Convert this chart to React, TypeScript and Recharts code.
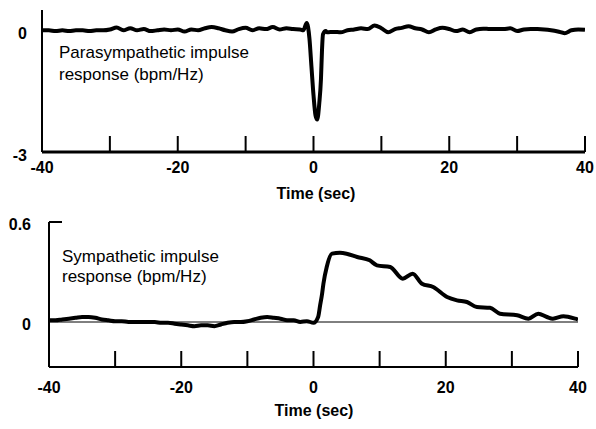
import React from 'react';
import { LineChart, Line, XAxis, YAxis, ReferenceLine } from 'recharts';

// Parasympathetic impulse response (bpm/Hz)
const paraTime = [
  -40, -39, -38, -37, -36, -35, -34, -33, -32, -31, -30, -29, -28, -27, -26, -25, -24, -23, -22, -21,
  -20, -19, -18, -17, -16, -15, -14, -13, -12, -11, -10, -9, -8, -7, -6, -5, -4, -3, -2, -1.5,
  -1.0, -0.6, -0.3, 0.0, 0.3, 0.55, 0.85, 1.1, 1.25, 1.4, 1.8,
  2, 3, 4, 5, 6, 7, 8, 9, 10, 11, 12, 13, 14, 15, 16, 17, 18, 19, 20,
  21, 22, 23, 24, 25, 26, 27, 28, 29, 30, 31, 32, 33, 34, 35, 36, 37, 38, 39, 40,
];
const paraValue = [
  0.0, 0.0, -0.02, 0.0, -0.02, 0.0, 0.0, -0.02, 0.0, 0.0, 0.02, 0.07, 0.0, 0.05, 0.0, 0.03, -0.02, 0.0, 0.02, 0.0,
  0.02, -0.03, 0.02, 0.0, 0.05, 0.08, 0.05, 0.0, -0.03, 0.03, 0.06, 0.0, 0.05, 0.03, 0.08, 0.02, 0.05, 0.03, 0.02, 0.0,
  0.18, -0.2, -0.9, -1.6, -2.1, -2.2, -1.8, -1.2, -0.5, -0.1, -0.02,
  -0.05, -0.04, -0.05, 0.0, 0.02, 0.05, 0.03, 0.12, 0.05, -0.05, 0.03, 0.06, 0.1, 0.05, 0.02, -0.05, 0.02, 0.06, 0.03,
  -0.02, 0.02, -0.05, 0.02, 0.04, 0.03, 0.03, 0.03, 0.05, -0.02, 0.02, 0.03, 0.03, 0.02, 0.0, -0.03, -0.07, 0.0, 0.02, 0.01,
];

// Sympathetic impulse response (bpm/Hz)
const sympTime = [
  -40, -39, -38, -37, -36, -35, -34, -33, -32, -31, -30, -29, -28, -27, -26, -25, -24, -23, -22, -21,
  -20, -19, -18, -17, -16, -15, -14, -13, -12, -11, -10, -9, -8, -7, -6, -5, -4, -3, -2, -1,
  0, 0.7, 1.0, 1.3, 1.5, 2, 2.8, 4, 5, 6.6, 8.5, 9.6, 11.6, 13.5, 15, 16.4, 18.1, 20.2, 21.7, 23.2,
  24.7, 26.7, 28.2, 30.8, 32.5, 34, 35.3, 36.2, 37.8, 39.6, 40,
];
const sympValue = [
  0.01, 0.01, 0.015, 0.02, 0.025, 0.03, 0.03, 0.025, 0.015, 0.01, 0.005, 0.005, 0.0, 0.0, 0.0, 0.0, 0.0, -0.005, -0.005, -0.01,
  -0.015, -0.02, -0.025, -0.02, -0.02, -0.025, -0.015, -0.005, 0.0, 0.0, 0.005, 0.015, 0.025, 0.03, 0.025, 0.02, 0.01, 0.01, 0.0, 0.005,
  -0.005, 0.03, 0.1, 0.17, 0.23, 0.33, 0.41, 0.415, 0.41, 0.39, 0.37, 0.34, 0.33, 0.26, 0.29, 0.23, 0.21, 0.15, 0.13, 0.12,
  0.09, 0.085, 0.05, 0.04, 0.02, 0.05, 0.03, 0.02, 0.035, 0.02, 0.015,
];

const xTicks = [-40, -30, -20, -10, 0, 10, 20, 30, 40];
const xLabelTicks = [-40, -20, 0, 20, 40];
const paraYTicks = [-3, 0];
const sympYTicks = [0, 0.6];

const paraData = paraTime.map((t, i) => ({ t, v: paraValue[i] }));
const sympData = sympTime.map((t, i) => ({ t, v: sympValue[i] }));

const FONT = '"Liberation Sans", Arial, Helvetica, sans-serif';

const makeXTick = (labelDy: number) => (props: any) => {
  const { x, y, payload } = props;
  const v = payload.value;
  return (
    <g>
      {v !== -40 && (
        <line x1={x} x2={x} y1={y} y2={y - 16} stroke="#000" strokeWidth={2} />
      )}
      {xLabelTicks.includes(v) && (
        <text
          x={x}
          y={y + labelDy}
          textAnchor="middle"
          dominantBaseline="central"
          fontFamily={FONT}
          fontWeight={700}
          fontSize={16}
          fill="#000"
        >
          {v}
        </text>
      )}
    </g>
  );
};

const makeYTick = (dx: number, dy: number, innerTickAt: number | null) => (props: any) => {
  const { x, y, payload } = props;
  const v = payload.value;
  return (
    <g>
      {innerTickAt !== null && v === innerTickAt && (
        <line x1={x} x2={x + 13} y1={y} y2={y} stroke="#000" strokeWidth={2} />
      )}
      <text
        x={x - dx}
        y={y + dy}
        textAnchor="end"
        dominantBaseline="central"
        fontFamily={FONT}
        fontWeight={700}
        fontSize={16}
        fill="#000"
      >
        {v}
      </text>
    </g>
  );
};

const textStyle: React.CSSProperties = {
  position: 'absolute',
  fontFamily: FONT,
  color: '#000',
  whiteSpace: 'nowrap',
};

export default function App() {
  return (
    <div style={{ position: 'absolute', left: 0, top: 0, width: 596, height: 429, background: '#fff', overflow: 'hidden' }}>
      <div style={{ position: 'absolute', left: 0, top: 0 }}>
        <LineChart width={596} height={215} data={paraData} margin={{ top: 10, right: 11, bottom: 33, left: 0 }}>
          <XAxis
            dataKey="t"
            type="number"
            domain={[-40, 40]}
            ticks={xTicks}
            interval={0}
            height={30}
            tickSize={0}
            tickMargin={0}
            tickLine={false}
            axisLine={{ stroke: '#000', strokeWidth: 3 }}
            tick={makeXTick(15)}
            allowDataOverflow
          />
          <YAxis
            type="number"
            domain={[-3, 0.5]}
            ticks={paraYTicks}
            interval={0}
            width={42}
            tickSize={0}
            tickMargin={0}
            tickLine={false}
            axisLine={{ stroke: '#000', strokeWidth: 2 }}
            tick={makeYTick(15, 3, null)}
            allowDataOverflow
          />
          <Line
            type="monotone"
            dataKey="v"
            stroke="#000"
            strokeWidth={4}
            dot={false}
            strokeLinejoin="round"
            isAnimationActive={false}
          />
        </LineChart>
      </div>
      <div style={{ position: 'absolute', left: 0, top: 200 }}>
        <LineChart width={596} height={229} data={sympData} margin={{ top: 22, right: 18, bottom: 32, left: 0 }}>
          <XAxis
            dataKey="t"
            type="number"
            domain={[-40, 40]}
            ticks={xTicks}
            interval={0}
            height={30}
            tickSize={0}
            tickMargin={0}
            tickLine={false}
            axisLine={{ stroke: '#000', strokeWidth: 2 }}
            tick={makeXTick(20)}
            allowDataOverflow
          />
          <YAxis
            type="number"
            domain={[-0.27, 0.6]}
            ticks={sympYTicks}
            interval={0}
            width={49}
            tickSize={0}
            tickMargin={0}
            tickLine={false}
            axisLine={{ stroke: '#000', strokeWidth: 2 }}
            tick={makeYTick(18, 2, 0.6)}
            allowDataOverflow
          />
          <ReferenceLine y={0} stroke="#000" strokeWidth={1} />
          <Line
            type="monotone"
            dataKey="v"
            stroke="#000"
            strokeWidth={4}
            dot={false}
            strokeLinejoin="round"
            isAnimationActive={false}
          />
        </LineChart>
      </div>
      <div style={{ ...textStyle, left: 59, top: 42, fontSize: 17, lineHeight: '22px' }}>
        Parasympathetic impulse
        <br />
        response (bpm/Hz)
      </div>
      <div style={{ ...textStyle, left: 316, top: 184, fontSize: 16, fontWeight: 700, lineHeight: '20px', transform: 'translateX(-50%)' }}>
        Time (sec)
      </div>
      <div style={{ ...textStyle, left: 62, top: 247, fontSize: 17, lineHeight: '20px' }}>
        Sympathetic impulse
        <br />
        response (bpm/Hz)
      </div>
      <div style={{ ...textStyle, left: 314, top: 401, fontSize: 16, fontWeight: 700, lineHeight: '20px', transform: 'translateX(-50%)' }}>
        Time (sec)
      </div>
    </div>
  );
}
